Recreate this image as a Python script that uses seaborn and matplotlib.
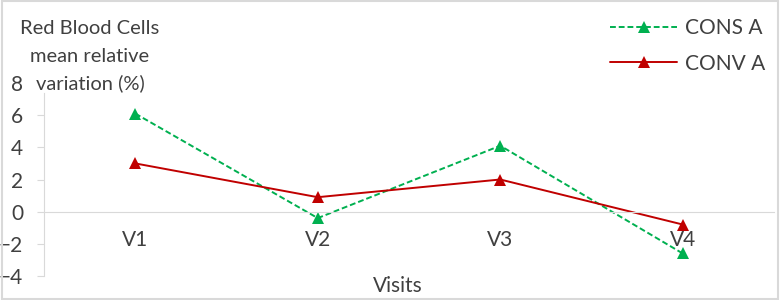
import pandas as pd
import seaborn as sns
import matplotlib.pyplot as plt
from matplotlib.patches import Rectangle

# data
visits = ['V1', 'V2', 'V3', 'V4']
cons_a = [6.1, -0.4, 4.1, -2.6]
conv_a = [3.0, 0.9, 2.0, -0.8]
ytitle_lines = ['Red Blood Cells', 'mean relative', 'variation (%)']

df = pd.DataFrame({
    'visit': visits * 2,
    'value': cons_a + conv_a,
    'group': ['CONS A'] * 4 + ['CONV A'] * 4,
})

sns.set_style('white')
plt.rcParams['font.family'] = ['Lato', 'DejaVu Sans']
text_col = '#404040'
grid_col = '#D9D9D9'

fig = plt.figure(figsize=(7.8, 3.0), dpi=100)
ax = fig.add_axes([44 / 780, 1 - 276 / 300, 730 / 780, (276 - 83) / 300])

palette = {'CONS A': '#00B050', 'CONV A': '#C00000'}
sns.lineplot(data=df, x='visit', y='value', hue='group', style='group',
             palette=palette, dashes={'CONS A': (3, 1.5), 'CONV A': ''},
             markers={'CONS A': '^', 'CONV A': '^'}, markersize=9,
             markeredgewidth=0, linewidth=1.4, ax=ax, sort=False)

ax.set_xlim(-0.5, 3.5)
ax.set_ylim(-4, 8)
ax.set_yticks(range(-4, 9, 2))

for s in ['top', 'right']:
    ax.spines[s].set_visible(False)
ax.spines['left'].set_color(grid_col)
ax.spines['left'].set_bounds(-4, 7.4)
ax.spines['bottom'].set_color(grid_col)
ax.spines['bottom'].set_position(('data', 0))
ax.tick_params(axis='y', length=5, color=grid_col, labelsize=15, pad=10,
               labelcolor=text_col, left=True, direction='out')
ax.tick_params(axis='x', length=0, pad=13, labelsize=15, labelcolor=text_col)
# top tick mark is hidden under the axis title in the original
ax.yaxis.get_major_ticks()[-1].tick1line.set_visible(False)

ax.set_xlabel('Visits', fontsize=15, color=text_col)
ax.xaxis.set_label_coords(0.485, 0.0)
ax.set_ylabel('')

# y-axis title sits above the axis, Excel style, one line at a time
for i, line in enumerate(ytitle_lines):
    fig.text(90 / 780, 1 - (29 + 27 * i) / 300, line, ha='center', va='center',
             fontsize=14.5, color=text_col)

leg = ax.legend(title=None, frameon=False, fontsize=15, handlelength=3.2,
                loc='upper right', bbox_to_anchor=(1.0, 1.38), labelspacing=0.75,
                borderaxespad=0, handletextpad=0.4)
for t in leg.get_texts():
    t.set_color(text_col)

fig.patches.append(Rectangle((0.002, 0.003), 0.995, 0.993, transform=fig.transFigure,
                             fill=False, edgecolor=grid_col, linewidth=1.5))

fig.savefig('out.png', dpi=100)
